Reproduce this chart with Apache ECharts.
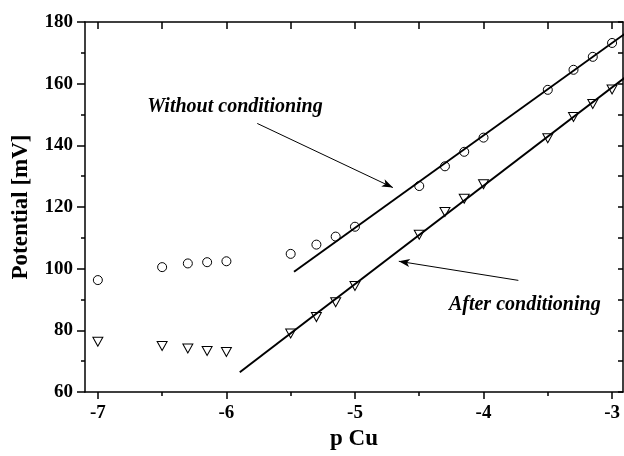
<!DOCTYPE html>
<html>
<head>
<meta charset="utf-8">
<script src="https://cdn.jsdelivr.net/npm/echarts@6/dist/echarts.min.js"></script>
<style>html,body{margin:0;padding:0;background:#fff;}#c{width:624px;height:456px;}</style>
</head>
<body>
<div id="c"></div>
<script>
// --- data ---
const pCu = [-7, -6.5, -6.3, -6.15, -6, -5.5, -5.3, -5.15, -5, -4.5, -4.3, -4.15, -4, -3.5, -3.3, -3.15, -3];
const withoutCond = [96.3, 100.5, 101.7, 102.1, 102.4, 104.8, 107.8, 110.4, 113.6, 126.8, 133.2, 137.9, 142.5, 158.0, 164.5, 168.7, 173.2];
const afterCond = [76.3, 74.9, 74.1, 73.3, 73.0, 79.0, 84.3, 89.1, 94.4, 111.0, 118.4, 122.7, 127.4, 142.3, 149.2, 153.4, 158.1];
const fitWithoutX = [-5.474, -2.9];
const fitWithoutY = [99.0, 176.2];
const fitAfterX = [-5.896, -2.9];
const fitAfterY = [66.4, 162.0];
const xMajorTicks = [-7, -6, -5, -4, -3];
const xMinorTicks = [-6.5, -5.5, -4.5, -3.5];
const xAllTicks = [-7, -6.5, -6, -5.5, -5, -4.5, -4, -3.5, -3];
const arrowWithout = [[-5.76, 147.1], [-4.705, 126.3]];
const arrowAfter = [[-3.729, 96.2], [-4.659, 102.4]];
const labelWithout = [-5.933, 152.5, 'Without conditioning'];
const labelAfter = [-3.679, 88.4, 'After conditioning'];

const FONT = '"Liberation Serif", "Times New Roman", serif';
const zip = (a, b) => a.map((v, i) => [v, b[i]]);

const chart = echarts.init(document.getElementById('c'), null, {renderer: 'canvas'});
const axisLine = {show: true, lineStyle: {color: '#000', width: 1.5}};
const xMin = -7.1, xMax = -2.915;

chart.setOption({
  animation: false,
  backgroundColor: '#fff',
  grid: {left: 85, top: 22, right: 1, bottom: 58, containLabel: false},
  xAxis: [
    {
      type: 'value', min: xMin, max: xMax, position: 'bottom',
      name: 'p Cu', nameLocation: 'middle', nameGap: 36,
      nameTextStyle: {fontFamily: FONT, fontWeight: 'bold', fontSize: 23, color: '#000'},
      axisLine: axisLine,
      axisTick: {show: true, inside: false, length: 7, customValues: xMajorTicks, lineStyle: {color: '#000', width: 1.5}},
      axisLabel: {show: true, customValues: xMajorTicks, margin: 12, fontFamily: FONT, fontWeight: 'bold', fontSize: 19, color: '#000',
        formatter: v => String(v)},
      splitLine: {show: false}
    },
    {
      type: 'value', min: xMin, max: xMax, position: 'bottom',
      axisLine: {show: false},
      axisTick: {show: true, inside: false, length: 4, customValues: xMinorTicks, lineStyle: {color: '#000', width: 1.5}},
      axisLabel: {show: false},
      splitLine: {show: false}
    },
    {
      type: 'value', min: xMin, max: xMax, position: 'top',
      axisLine: axisLine,
      axisTick: {show: true, inside: true, length: 7, customValues: xAllTicks, lineStyle: {color: '#000', width: 1.5}},
      axisLabel: {show: false},
      splitLine: {show: false}
    }
  ],
  yAxis: [
    {
      type: 'value', min: 60, max: 180, interval: 20, position: 'left',
      name: 'Potential [mV]', nameLocation: 'middle', nameGap: 52,
      nameTextStyle: {fontFamily: FONT, fontWeight: 'bold', fontSize: 23, color: '#000'},
      axisLine: axisLine,
      axisTick: {show: true, inside: false, length: 8, lineStyle: {color: '#000', width: 1.5}},
      minorTick: {show: true, splitNumber: 2, length: 4, lineStyle: {color: '#000', width: 1.5}},
      axisLabel: {margin: 12, fontFamily: FONT, fontWeight: 'bold', fontSize: 19, color: '#000'},
      splitLine: {show: false}
    },
    {
      type: 'value', min: 60, max: 180, interval: 10, position: 'right',
      axisLine: axisLine,
      axisTick: {show: true, inside: true, length: 5, lineStyle: {color: '#000', width: 1.5}},
      axisLabel: {show: false},
      splitLine: {show: false}
    }
  ],
  series: [
    {
      type: 'scatter', data: zip(pCu, withoutCond), symbol: 'circle', symbolSize: 9,
      itemStyle: {color: 'rgba(255,255,255,0)', borderColor: '#000', borderWidth: 1, opacity: 1}, z: 5
    },
    {
      type: 'scatter', data: zip(pCu, afterCond), symbol: 'triangle', symbolSize: [10, 9], symbolRotate: 180,
      itemStyle: {color: 'rgba(255,255,255,0)', borderColor: '#000', borderWidth: 1, opacity: 1}, z: 5
    },
    {
      type: 'line', data: zip(fitWithoutX, fitWithoutY), showSymbol: false, symbol: 'none',
      lineStyle: {color: '#000', width: 2}, clip: true, z: 4
    },
    {
      type: 'line', data: zip(fitAfterX, fitAfterY), showSymbol: false, symbol: 'none',
      lineStyle: {color: '#000', width: 2}, clip: true, z: 4,
      markLine: {
        silent: true, symbol: ['none', 'arrow'], symbolSize: [6, 11],
        lineStyle: {color: '#000', width: 1, type: 'solid'},
        label: {show: false},
        data: [
          [{coord: arrowWithout[0]}, {coord: arrowWithout[1]}],
          [{coord: arrowAfter[0]}, {coord: arrowAfter[1]}]
        ]
      }
    },
    {
      type: 'scatter', symbolSize: 0, silent: true,
      itemStyle: {color: '#000', opacity: 1},
      data: [labelWithout, labelAfter],
      label: {
        show: true, position: 'inside', formatter: p => p.value[2],
        fontFamily: FONT, fontWeight: 'bold', fontStyle: 'italic', fontSize: 20, color: '#000',
        textBorderWidth: 0, textBorderColor: 'transparent'
      }
    }
  ]
});
</script>
</body>
</html>
